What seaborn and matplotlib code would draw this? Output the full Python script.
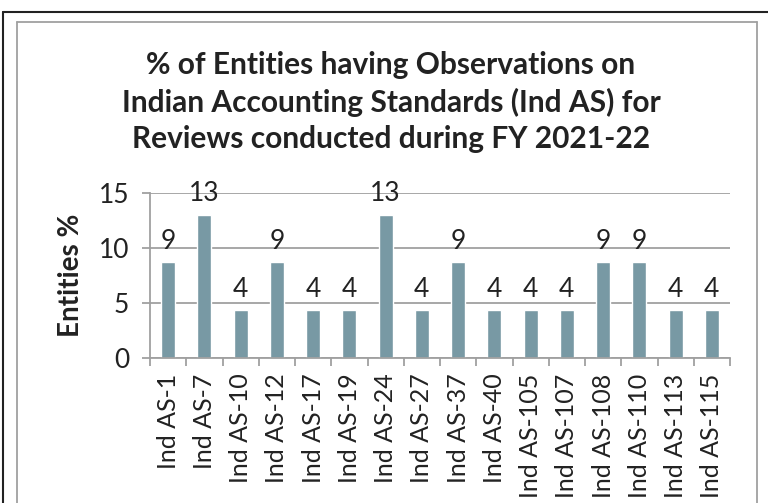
import matplotlib
matplotlib.use("Agg")
import matplotlib.pyplot as plt
import seaborn as sns
import pandas as pd
from matplotlib.lines import Line2D

# data
standards = ["Ind AS-1", "Ind AS-7", "Ind AS-10", "Ind AS-12", "Ind AS-17", "Ind AS-19",
             "Ind AS-24", "Ind AS-27", "Ind AS-37", "Ind AS-40", "Ind AS-105", "Ind AS-107",
             "Ind AS-108", "Ind AS-110", "Ind AS-113", "Ind AS-115"]
entities_pct = [8.70, 13.04, 4.35, 8.70, 4.35, 4.35, 13.04, 4.35, 8.70, 4.35, 4.35, 4.35,
                8.70, 8.70, 4.35, 4.35]
y_ticks = [0, 5, 10, 15]

title = ("% of Entities having Observations on\n"
         "Indian Accounting Standards (Ind AS) for\n"
         "Reviews conducted during FY 2021-22")

sns.set_theme(style="white")
plt.rcParams['font.family'] = ['Lato', 'DejaVu Sans']

df = pd.DataFrame({'std': standards, 'pct': entities_pct})

W, H = 768, 503
fig = plt.figure(figsize=(W / 100, H / 100), dpi=100)
ax = fig.add_axes([150 / W, 1 - 358 / H, 580 / W, 165 / H])

sns.barplot(data=df, x='std', y='pct', color='#7899A4', saturation=1, width=0.39, ax=ax)
ax.bar_label(ax.containers[0], fmt='%.0f', padding=6, fontsize=19, color='#222222')

ax.set_ylim(0, 15)
ax.set_xlim(-0.5, len(standards) - 0.5)
ax.set_yticks(y_ticks)
ax.yaxis.grid(True, color='#A0A0A0', lw=1.3)
ax.set_axisbelow(True)
for s in ['top', 'right']:
    ax.spines[s].set_visible(False)
for s in ['left', 'bottom']:
    ax.spines[s].set_color('#A0A0A0')
    ax.spines[s].set_linewidth(1.3)

ax.tick_params(axis='y', length=6, width=1.3, color='#A0A0A0', labelsize=19,
               labelcolor='#222222', pad=9, left=True)
ax.set_xticks(range(len(standards)))
ax.set_xticklabels(standards, rotation=90, fontsize=18, color='#222222')
ax.tick_params(axis='x', length=0, pad=11, bottom=True)
ax.set_xticks([i - 0.5 for i in range(len(standards) + 1)], minor=True)
ax.tick_params(axis='x', which='minor', length=6, width=1.3, color='#A0A0A0', bottom=True)

ax.set_xlabel('')
ax.set_ylabel('Entities %', fontsize=20, fontweight='bold', color='#222222')
ax.yaxis.set_label_coords(-(150 - 84) / 580, (358 - 275) / 165)

fig.text(391 / W, 1 - 102 / H, title, ha='center', va='center', fontsize=21.5,
         fontweight='bold', color='#222222', linespacing=1.36)

# outer frame (black) and inner chart frame (gray), both cut by the image edge
fig.add_artist(Line2D([3 / W, 3 / W], [0, 1 - 12 / H], color='#222222', lw=1.5,
                      transform=fig.transFigure))
fig.add_artist(Line2D([3 / W, 1], [1 - 12 / H, 1 - 12 / H], color='#222222', lw=1.5,
                      transform=fig.transFigure))
fig.add_artist(Line2D([17 / W, 17 / W], [0, 1 - 22 / H], color='#A0A0A0', lw=1.3,
                      transform=fig.transFigure))
fig.add_artist(Line2D([17 / W, 757 / W], [1 - 22 / H, 1 - 22 / H], color='#A0A0A0', lw=1.3,
                      transform=fig.transFigure))
fig.add_artist(Line2D([757 / W, 757 / W], [0, 1 - 22 / H], color='#A0A0A0', lw=1.3,
                      transform=fig.transFigure))

fig.savefig('out.png', dpi=100)
